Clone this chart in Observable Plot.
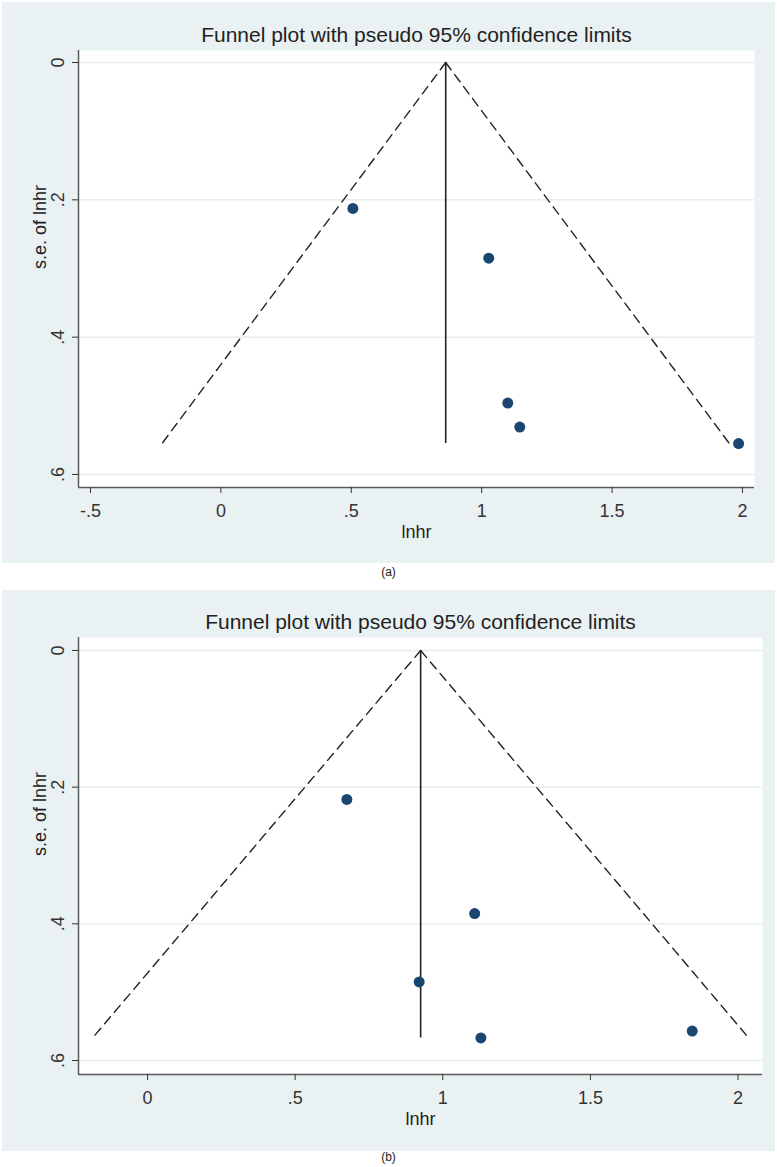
<!DOCTYPE html>
<html><head><meta charset="utf-8">
<script src="https://cdn.jsdelivr.net/npm/d3@7"></script>
<script src="https://cdn.jsdelivr.net/npm/@observablehq/plot@0.6"></script>
<style>
body{margin:0;background:#fff;width:777px;height:1167px;position:relative;overflow:hidden;font-family:"Liberation Sans",Arial,sans-serif;}
.panel{position:absolute;left:2px;width:773px;background:#EAF1F3;}
.cap{position:absolute;left:0;width:777px;text-align:center;font-size:12px;line-height:15px;color:#222;}
</style></head><body>
<div id="pa" class="panel" style="top:2px;height:561px"></div>
<div class="cap" style="top:565px">(a)</div>
<div id="pb" class="panel" style="top:590px;height:561px"></div>
<div class="cap" style="top:1150px">(b)</div>
<script>
const titleText = "Funnel plot with pseudo 95% confidence limits";
const xLabel = "lnhr";
const yLabel = "s.e. of lnhr";
const yTicks = [0, 0.2, 0.4, 0.6];

// panel (a)
const lnhrA = [0.506, 1.027, 1.10, 1.146, 1.985];
const seA = [0.2125, 0.285, 0.496, 0.531, 0.555];
const pooledA = 0.862;
const xTicksA = [-0.5, 0, 0.5, 1, 1.5, 2];

// panel (b)
const lnhrB = [0.675, 1.108, 0.92, 1.129, 1.845];
const seB = [0.218, 0.385, 0.485, 0.567, 0.557];
const pooledB = 0.925;
const xTicksB = [0, 0.5, 1, 1.5, 2];

function stataFmt(d) {
  if (d === 0) return "0";
  return String(d).replace(/^(-?)0\./, "$1.");
}

function panel({lnhr, se, pooled, xTicks, xDomain, yDomain, marginTop, marginBottom, marginRight, height}) {
  const pts = lnhr.map((x, i) => ({x, y: se[i]}));
  const maxSe = d3.max(se);
  const funnel = [
    {side: "L", x: pooled, y: 0}, {side: "L", x: pooled - 1.96 * maxSe, y: maxSe},
    {side: "R", x: pooled, y: 0}, {side: "R", x: pooled + 1.96 * maxSe, y: maxSe}
  ];
  return Plot.plot({
    width: 773, height,
    marginLeft: 76, marginRight, marginTop, marginBottom,
    style: {background: "transparent", fontFamily: "'Liberation Sans', Arial, sans-serif", overflow: "visible", color: "#222"},
    x: {domain: xDomain},
    y: {domain: yDomain, reverse: true},
    marks: [
      Plot.frame({fill: "white", stroke: null}),
      Plot.ruleY(yTicks, {stroke: "#E4EDF0", strokeWidth: 1.5}),
      Plot.ruleX([xDomain[0]], {stroke: "#5a5a5a", strokeWidth: 1.5}),
      Plot.ruleY([yDomain[1]], {stroke: "#5a5a5a", strokeWidth: 1.5}),
      Plot.axisX({ticks: xTicks, tickFormat: stataFmt, tickSize: 6, tickPadding: 11, fontSize: 18, color: "#333", label: null}),
      Plot.axisY({ticks: yTicks, tickFormat: stataFmt, tickSize: 6, tickPadding: 9, tickRotate: -90, fontSize: 18, color: "#333", label: null}),
      Plot.line(funnel, {x: "x", y: "y", z: "side", stroke: "#222", strokeWidth: 1.4, strokeDasharray: "9,6"}),
      Plot.ruleX([{x: pooled, y1: 0, y2: maxSe}], {x: "x", y1: "y1", y2: "y2", stroke: "#222", strokeWidth: 1.6}),
      Plot.dot(pts, {x: "x", y: "y", r: 5.5, fill: "#1a476f", stroke: null}),
      Plot.text([xLabel], {text: d => d, frameAnchor: "bottom", dy: 50, lineAnchor: "bottom", fontSize: 18, fill: "#222"}),
      Plot.text([yLabel], {text: d => d, frameAnchor: "left", dx: -33, rotate: -90, lineAnchor: "bottom", fontSize: 18, fill: "#222"}),
      Plot.text([titleText], {text: d => d, frameAnchor: "top", dy: -9, lineAnchor: "bottom", fontSize: 21, fill: "#222"})
    ]
  });
}

document.getElementById("pa").appendChild(panel({
  lnhr: lnhrA, se: seA, pooled: pooledA, xTicks: xTicksA,
  xDomain: [-0.546, 2.046], yDomain: [-0.0175, 0.619],
  marginTop: 48, marginBottom: 76, marginRight: 21, height: 561
}));
document.getElementById("pb").appendChild(panel({
  lnhr: lnhrB, se: seB, pooled: pooledB, xTicks: xTicksB,
  xDomain: [-0.234, 2.083], yDomain: [-0.019, 0.6205],
  marginTop: 47, marginBottom: 77, marginRight: 13, height: 561
}));
</script>
</body></html>
